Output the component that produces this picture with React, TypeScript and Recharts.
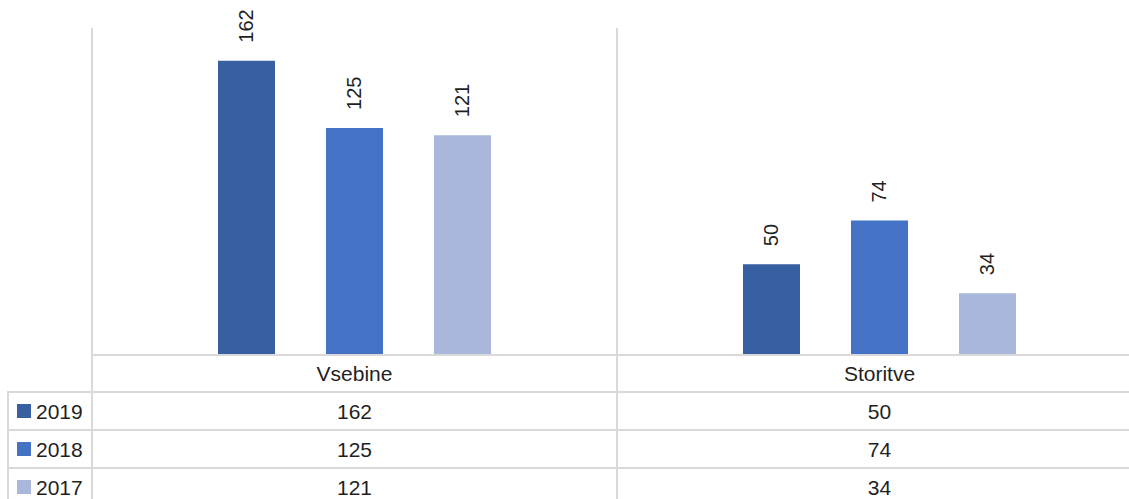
import { Bar, BarChart, LabelList, XAxis, YAxis } from 'recharts'

const categories = ['Vsebine', 'Storitve']
const years = ['2019', '2018', '2017']
const values2019 = [162, 50]
const values2018 = [125, 74]
const values2017 = [121, 34]
const seriesValues = [values2019, values2018, values2017]
const seriesKeys = ['y2019', 'y2018', 'y2017']
const seriesColors = ['#375FA1', '#4472C4', '#A9B7DB']

const data = categories.map((name, i) => ({
  name,
  y2019: values2019[i],
  y2018: values2018[i],
  y2017: values2017[i],
}))

const W = 1150
const H = 506
const M = { top: 28, right: 8, left: 92, bottom: 0 }
const CAT_H = 37
const ROW_H = 38
const GRID = '#D9D9D9'
const TEXT = '#1f1f1f'
const FONT = '"Liberation Sans", Arial, sans-serif'

const plotBottom = H - M.bottom - CAT_H - ROW_H * years.length
const band = (W - M.left - M.right) / categories.length

function BarValue(props: any) {
  const { x, y, width, value } = props
  const cx = x + width / 2
  const cy = y - 18
  return (
    <text x={cx} y={cy} transform={`rotate(-90 ${cx} ${cy})`} textAnchor="start" dominantBaseline="central" fontSize={20} fill={TEXT} fontFamily={FONT}>
      {value}
    </text>
  )
}

function rowTick(values: number[]) {
  return (props: any) => {
    const { x, y, payload } = props
    const i = payload?.index ?? props.index
    return (
      <text x={x} y={y + ROW_H / 2} textAnchor="middle" dominantBaseline="central" fontSize={21} fill={TEXT} fontFamily={FONT}>
        {values[i]}
      </text>
    )
  }
}

function CategoryTick(props: any) {
  const { x, y, payload } = props
  return (
    <text x={x} y={y + CAT_H / 2} textAnchor="middle" dominantBaseline="central" fontSize={21} fill={TEXT} fontFamily={FONT}>
      {payload.value}
    </text>
  )
}

function TableFrame() {
  const tableTop = plotBottom + CAT_H
  return (
    <svg width={1129} height={499} style={{ position: 'absolute', left: 0, top: 0, pointerEvents: 'none' }}>
      {categories.map((_, i) => (
        <line key={i} x1={M.left + band * i} x2={M.left + band * i} y1={M.top} y2={H} stroke={GRID} strokeWidth={2} />
      ))}
      <line x1={8} x2={8} y1={tableTop} y2={H} stroke={GRID} strokeWidth={2} />
      {years.map((year, i) => {
        const top = tableTop + ROW_H * i
        return (
          <g key={year}>
            <line x1={7} x2={M.left} y1={top} y2={top} stroke={GRID} strokeWidth={2} />
            <rect x={17} y={top + 12} width={14} height={14} fill={seriesColors[i]} />
            <text x={36} y={top + ROW_H / 2} dominantBaseline="central" fontSize={21} fill={TEXT} fontFamily={FONT}>
              {year}
            </text>
          </g>
        )
      })}
    </svg>
  )
}

export default function App() {
  return (
    <div style={{ position: 'absolute', left: 0, top: 0, width: 1129, height: 499, overflow: 'hidden', background: '#fff', fontFamily: FONT }}>
      <BarChart width={W} height={H} data={data} margin={M} barSize={57} barGap={51}>
        <YAxis hide domain={[0, 180]} />
        {/* bottom axes stack by id order: cat, row0, row1, row2 */}
        <XAxis
          xAxisId="cat"
          dataKey="name"
          height={CAT_H}
          tickLine={false}
          tickSize={0}
          tickMargin={0}
          interval={0}
          axisLine={{ stroke: GRID, strokeWidth: 2 }}
          tick={<CategoryTick />}
        />
        {years.map((year, i) => (
          <XAxis
            key={year}
            xAxisId={`row${i}`}
            dataKey="name"
            height={ROW_H}
            tickLine={false}
            tickSize={0}
            tickMargin={0}
            interval={0}
            axisLine={{ stroke: GRID, strokeWidth: 2 }}
            tick={rowTick(seriesValues[i])}
          />
        ))}
        {seriesKeys.map((key, i) => (
          <Bar key={key} xAxisId="cat" dataKey={key} name={years[i]} fill={seriesColors[i]} isAnimationActive={false}>
            <LabelList dataKey={key} content={<BarValue />} />
          </Bar>
        ))}
      </BarChart>
      <TableFrame />
    </div>
  )
}
